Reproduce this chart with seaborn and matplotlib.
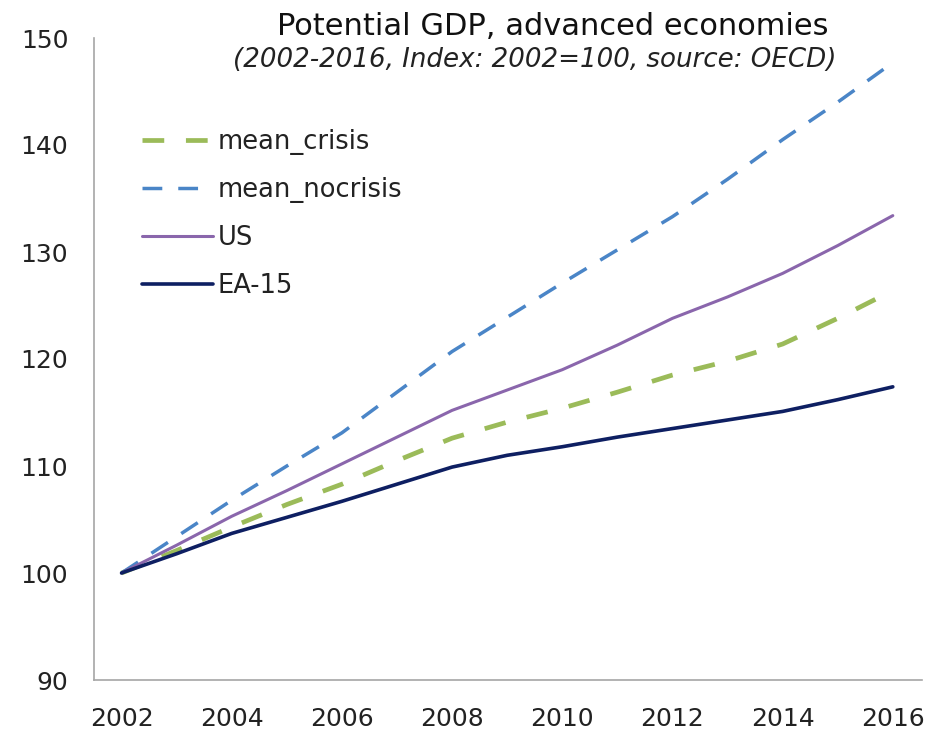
import matplotlib
matplotlib.use("Agg")
import matplotlib.pyplot as plt
import seaborn as sns
import pandas as pd

years = list(range(2002, 2017))
mean_crisis = [100, 102.1, 104.3, 106.4, 108.3, 110.5, 112.6, 114.1, 115.4, 116.9, 118.5, 119.8, 121.4, 123.8, 126.4]
mean_nocrisis = [100, 103.4, 106.8, 110.0, 113.1, 116.9, 120.7, 123.9, 127.1, 130.2, 133.3, 136.8, 140.5, 144.0, 147.7]
us = [100, 102.6, 105.3, 107.7, 110.2, 112.7, 115.2, 117.1, 119.0, 121.3, 123.8, 125.8, 128.0, 130.6, 133.4]
ea15 = [100, 101.8, 103.7, 105.2, 106.7, 108.3, 109.9, 111.0, 111.8, 112.7, 113.5, 114.3, 115.1, 116.2, 117.4]

series_names = ["mean_crisis", "mean_nocrisis", "US", "EA-15"]
series_vals = [mean_crisis, mean_nocrisis, us, ea15]
colors = ["#9BBB59", "#4A85C7", "#8A66AC", "#0E1F62"]
widths = [3.4, 2.5, 2.2, 2.6]
dashes = [(4.6, 4.6), (5.7, 4.6), None, None]

sns.set_theme(style="white")
plt.rcParams['font.family'] = ['DejaVu Sans']

fig = plt.figure(figsize=(9.35, 7.3), dpi=100)
ax = fig.add_axes([94/935, 1 - 680/730, (922 - 94)/935, (680 - 38)/730])

for name, vals, c, lw, d in zip(series_names, series_vals, colors, widths, dashes):
    df = pd.DataFrame({"year": years, "value": vals})
    sns.lineplot(data=df, x="year", y="value", ax=ax, color=c, linewidth=lw, label=name)
    line = ax.lines[-1]
    if d is not None:
        line.set_dashes(d)
    line.set_solid_capstyle("round")
    line.set_dash_capstyle("butt")

ax.set_xlim(2001.5, 2016.53)
ax.set_ylim(90, 150)
ax.set_xticks(range(2002, 2017, 2))
ax.set_yticks(range(90, 151, 10))
ax.tick_params(axis="both", labelsize=18, colors="#222222", length=0)
ax.tick_params(axis="x", pad=19.5)
ax.tick_params(axis="y", pad=18.5)
ax.set_xlabel("")
ax.set_ylabel("")
for s in ["top", "right"]:
    ax.spines[s].set_visible(False)
for s in ["left", "bottom"]:
    ax.spines[s].set_color("#A6A6A6")
    ax.spines[s].set_linewidth(1.2)

leg = ax.legend(loc="upper left", bbox_to_anchor=(48/828, 1 - (129 - 38)/642), frameon=False,
                fontsize=18.5, handlelength=2.75, handletextpad=0.2, labelspacing=0.85,
                borderaxespad=0, borderpad=0)
for t in leg.get_texts():
    t.set_color("#222222")

fig.text(553/935, 1 - 35/730, "Potential GDP, advanced economies", ha="center", va="baseline",
         fontsize=22, color="#111111")
fig.text(535/935, 1 - 67/730, "(2002-2016, Index: 2002=100, source: OECD)", ha="center", va="baseline",
         fontsize=18.8, style="italic", color="#222222")

fig.savefig("out.png", dpi=100)
